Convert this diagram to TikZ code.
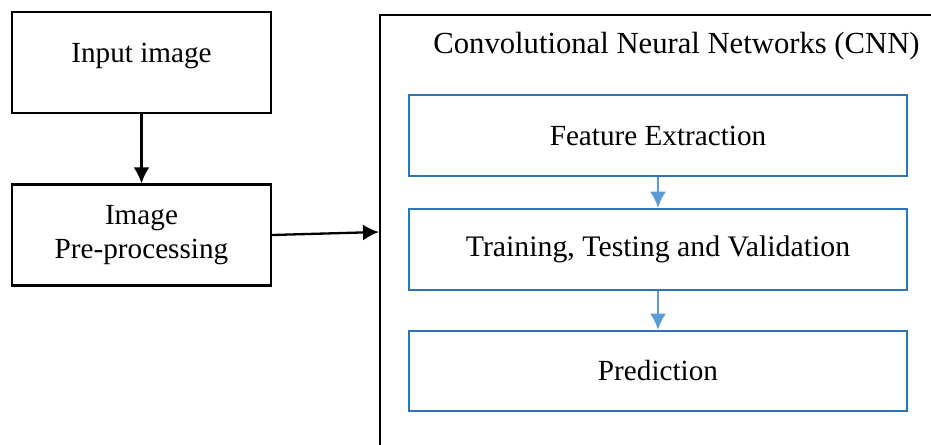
\documentclass[tikz,border=0pt]{standalone}
\usepackage{fontspec}
\setmainfont{Liberation Serif}
\usetikzlibrary{arrows.meta}
\definecolor{stepblue}{RGB}{46,117,182}
\definecolor{arrowblue}{RGB}{91,155,213}

\begin{document}
\begin{tikzpicture}[x=0.411pt,y=-0.411pt,font=\fontsize{12pt}{14pt}\selectfont]

%
% Styles
%
\tikzstyle{inbox}   = [draw=black,line width=0.95pt,minimum width=106.5pt,minimum height=41.5pt,align=center,inner sep=0pt]
\tikzstyle{stepbox} = [draw=stepblue,line width=1pt,minimum width=204.7pt,minimum height=33.3pt,align=center,inner sep=0pt]
\tikzstyle{edge}    = [-{Latex[length=6.6pt,width=6.6pt]},line width=0.95pt]
\tikzstyle{bedge}   = [-{Latex[length=6.6pt,width=6.6pt]},line width=1pt,draw=arrowblue,fill=arrowblue]

\useasboundingbox (0,0) rectangle (931,445);
\clip (0,0) rectangle (931,445);

\node[inbox]   (inp)  at (141.5, 62.5)  {\raisebox{0pt}[0pt][0pt]{Input image}};
\node[inbox]   (pre)  at (141.5,  235)  {Image\\Pre-processing};

\node[draw=black,line width=0.95pt,minimum width=240pt,minimum height=190pt,anchor=north west]
               (cnn)  at (379,14) {};
\node[anchor=base,font=\fontsize{12.6pt}{14pt}\selectfont] (ttl) at (676.5,53.5) {Convolutional Neural Networks (CNN)};
\node[stepbox] (fe)   at (658,135.5) {Feature Extraction};
\node[stepbox,font=\fontsize{12.25pt}{14pt}\selectfont] (tr) at (658,249.5) {Training, Testing and Validation};
\node[stepbox,minimum height=32.9pt] (pr) at (658,371) {Prediction};
\coordinate    (cnnin) at (379,232);

\draw[edge]  (inp) -- (pre);
\draw[edge]  (pre.east) -- (cnnin);
\draw[bedge] (fe) -- (tr);
\draw[bedge] (tr) -- (pr);

\end{tikzpicture}
\end{document}
